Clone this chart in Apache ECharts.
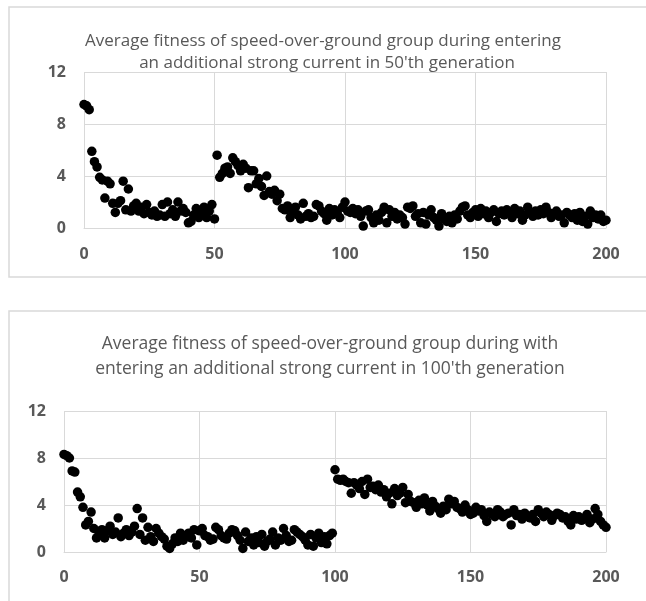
<!DOCTYPE html>
<html>
<head>
<meta charset="utf-8">
<script src="https://cdn.jsdelivr.net/npm/echarts@6/dist/echarts.min.js"></script>
<style>html,body{margin:0;padding:0;background:#fff}#c{width:646px;height:601px}</style>
</head>
<body>
<div id="c"></div>
<script>
// ---- data ----
var title1 = ["Average fitness of speed-over-ground group during entering", "an additional strong current in 50'th generation"];
var title2 = ["Average fitness of speed-over-ground group during with", "entering an additional strong current in 100'th generation"];
var xTicks = [0, 50, 100, 150, 200];
var yTicks = [0, 4, 8, 12];

// chart 1: fitness per generation 0..200 (current in 50th generation)
var fitness50 = [
  9.5, 9.4, 9.1, 5.9, 5.1, 4.7, 3.9, 3.7, 2.3, 3.6,
  3.4, 1.9, 1.2, 1.9, 2.1, 3.6, 1.4, 3.0, 1.3, 1.7,
  1.9, 1.3, 1.6, 1.1, 1.8, 1.2, 1.0, 1.3, 0.9, 1.0,
  1.8, 0.9, 2.0, 1.1, 1.4, 0.9, 2.0, 1.3, 1.5, 1.2,
  0.4, 0.5, 1.0, 1.5, 0.8, 1.1, 1.6, 0.8, 1.3, 1.8,
  0.7,
  5.6, 3.9, 4.2, 4.6, 4.7, 4.2, 5.4, 5.1, 4.8,
  4.4, 4.9, 4.6, 3.1, 4.4, 4.4, 3.4, 3.8, 3.2, 2.5,
  4.0, 2.8, 2.6, 2.9, 2.1, 2.6, 1.5, 1.4, 1.7, 0.8,
  1.2, 1.6, 1.0, 0.7, 1.9, 0.9, 1.1, 0.8, 0.9, 1.8,
  1.7, 1.3, 1.1, 0.6, 1.5, 1.0, 1.4, 1.2, 0.8, 1.6,
  2.0, 1.3, 1.2, 1.5, 1.1, 1.4, 0.9, 0.15, 1.3, 1.4,
  0.8, 0.4, 1.0, 0.6, 1.2, 1.6, 0.4, 1.4, 0.9, 1.2,
  0.7, 1.0, 0.8, 0.3, 1.6, 1.5, 1.7, 0.9, 1.1, 0.4,
  1.2, 0.3, 1.0, 1.4, 0.8, 0.6, 0.15, 1.1, 0.7, 0.5,
  0.9, 0.4, 1.0, 0.7, 1.3, 1.6, 1.7, 1.0, 0.8, 1.2,
  1.4, 0.9, 1.5, 1.1, 1.3, 0.8, 1.2, 1.4, 0.5, 1.1,
  1.3, 1.0, 1.4, 1.2, 0.8, 1.5, 1.1, 1.3, 0.6, 1.0,
  1.6, 1.2, 0.9, 1.3, 1.0, 1.4, 1.1, 1.6, 1.2, 0.8,
  1.1, 1.3, 0.9, 1.0, 0.4, 1.2, 1.0, 0.8, 1.1, 0.6,
  1.2, 0.5, 0.9, 0.3, 1.3, 0.8, 1.0, 0.7, 1.0, 0.5,
  0.6
];

// chart 2: fitness per generation 0..200 (current in 100th generation)
var fitness100 = [
  8.3, 8.2, 8.0, 6.9, 6.8, 5.1, 4.7, 3.8, 2.3, 2.6, 3.4,
  2.0, 1.2, 1.6, 1.9, 1.2, 1.8, 2.2, 1.5, 1.7, 2.9,
  1.3, 1.6, 1.9, 1.4, 1.7, 2.2, 3.7, 1.5, 2.9, 1.0,
  2.1, 1.3, 0.9, 2.0, 1.6, 1.3, 1.1, 0.5, 0.3, 0.7,
  1.2, 0.9, 1.6, 1.0, 1.4, 1.6, 1.2, 1.9, 0.6, 1.8,
  2.0, 1.4, 1.3, 1.0, 1.1, 2.1, 1.9, 1.4, 1.2, 1.1,
  1.6, 1.9, 1.8, 1.4, 1.0, 0.3, 1.7, 0.9, 1.2, 0.6,
  1.3, 0.8, 1.5, 0.5, 0.9, 1.1, 1.7, 0.6, 1.2, 1.0,
  2.0, 1.4, 0.9, 1.0, 1.9, 1.7, 1.5, 1.3, 1.0, 0.6,
  1.5, 0.5, 1.2, 1.6, 0.8, 1.3, 0.7, 1.4, 1.6,
  7.0,
  6.2, 6.1, 6.2, 6.0, 5.9, 5.0, 5.9, 5.7, 5.4, 6.0,
  4.9, 6.2, 5.5, 5.6, 5.3, 5.7, 5.1, 5.3, 4.7, 5.0,
  4.1, 5.4, 4.8, 5.0, 5.5, 4.2, 4.9, 4.3, 4.2, 3.8,
  4.4, 4.1, 4.6, 4.0, 3.5, 4.3, 3.9, 3.7, 3.3, 3.9,
  3.6, 4.5, 4.1, 4.3, 3.8, 3.7, 3.4, 4.0, 3.6, 3.2,
  3.3, 3.8, 3.5, 3.6, 3.1, 2.6, 3.4, 3.2, 3.0, 3.6,
  3.4, 3.0, 3.2, 3.3, 2.3, 3.6, 3.1, 3.2, 2.8, 3.3,
  3.0, 2.9, 3.2, 2.6, 3.6, 3.3, 3.0, 3.4, 3.2, 2.7,
  3.1, 3.3, 3.2, 2.9, 3.0, 2.6, 2.3, 3.1, 2.8, 3.0,
  2.7, 2.9, 3.2, 2.5, 2.8, 3.7, 3.2, 2.6, 2.3, 2.1
];

// ---- build ----
function pairs(arr) { return arr.map(function (v, i) { return [i, v]; }); }
var GRID = '#d9d9d9', TXT = '#595959';
var labelStyle = { color: TXT, fontWeight: 'bold', fontSize: 16, fontFamily: 'Open Sans' };
function xAx(idx, m) {
  return { type: 'value', gridIndex: idx, min: xTicks[0], max: xTicks[xTicks.length - 1], interval: xTicks[1] - xTicks[0],
    axisLine: { show: true, lineStyle: { color: GRID, width: 1 } }, axisTick: { show: false },
    splitLine: { show: true, lineStyle: { color: GRID, width: 1 } },
    axisLabel: Object.assign({ margin: m }, labelStyle) };
}
function yAx(idx, m) {
  return { type: 'value', gridIndex: idx, min: yTicks[0], max: yTicks[yTicks.length - 1], interval: yTicks[1] - yTicks[0],
    axisLine: { show: false }, axisTick: { show: false },
    splitLine: { show: true, lineStyle: { color: GRID, width: 1 } },
    axisLabel: Object.assign({ margin: m }, labelStyle) };
}
var titleFont1 = 'normal 17px "Open Sans"';
var titleFont2 = 'normal 17.5px "Open Sans"';
var chart = echarts.init(document.getElementById('c'), null, { renderer: 'canvas' });
chart.setOption({
  animation: false,
  backgroundColor: '#fff',
  grid: [
    { left: 84, top: 72, width: 522, height: 156 },
    { left: 64, top: 411, width: 542, height: 141 }
  ],
  xAxis: [xAx(0, 18), xAx(1, 17)],
  yAxis: [yAx(0, 18), yAx(1, 18)],
  series: [
    { type: 'scatter', xAxisIndex: 0, yAxisIndex: 0, data: pairs(fitness50), symbol: 'circle', symbolSize: 9.5, itemStyle: { color: '#000', opacity: 1 } },
    { type: 'scatter', xAxisIndex: 1, yAxisIndex: 1, data: pairs(fitness100), symbol: 'circle', symbolSize: 9.5, itemStyle: { color: '#000', opacity: 1 } }
  ],
  graphic: [
    { type: 'rect', shape: { x: 9, y: 7, width: 640, height: 270 }, style: { fill: 'none', stroke: GRID, lineWidth: 1.5 }, silent: true },
    { type: 'rect', shape: { x: 9, y: 311, width: 640, height: 300 }, style: { fill: 'none', stroke: GRID, lineWidth: 1.5 }, silent: true },
    { type: 'text', x: 323, y: 41, style: { text: title1[0], font: titleFont1, fill: TXT, textAlign: 'center', textVerticalAlign: 'middle' } },
    { type: 'text', x: 327, y: 63, style: { text: title1[1], font: titleFont1, fill: TXT, textAlign: 'center', textVerticalAlign: 'middle' } },
    { type: 'text', x: 330, y: 344, style: { text: title2[0], font: titleFont2, fill: TXT, textAlign: 'center', textVerticalAlign: 'middle' } },
    { type: 'text', x: 330, y: 369, style: { text: title2[1], font: titleFont2, fill: TXT, textAlign: 'center', textVerticalAlign: 'middle' } }
  ]
});
</script>
</body>
</html>
